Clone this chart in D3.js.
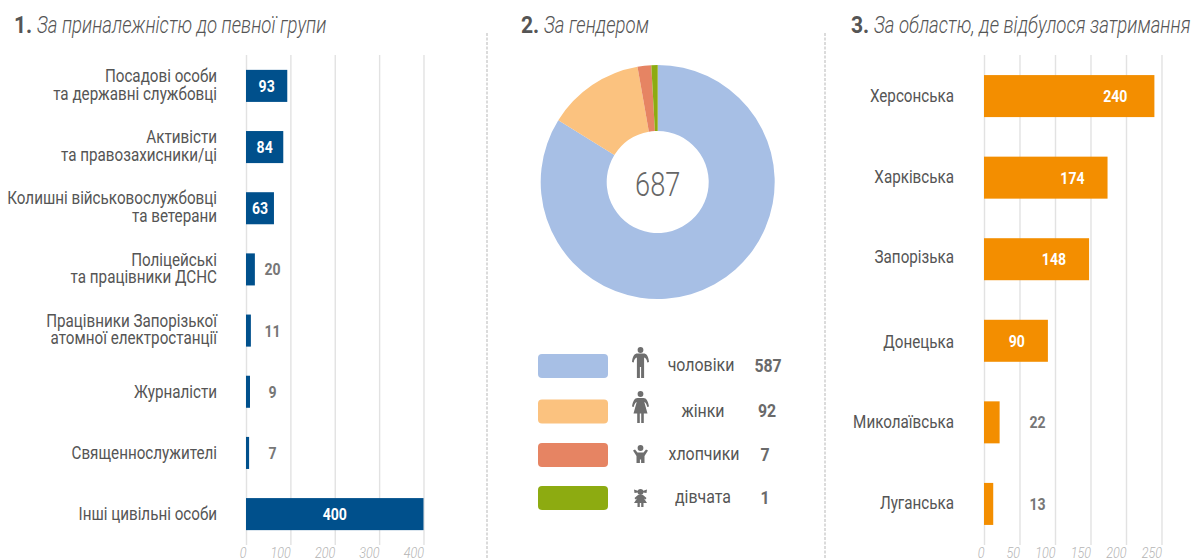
<!DOCTYPE html>
<html>
<head>
<meta charset="utf-8">
<script src="https://cdnjs.cloudflare.com/ajax/libs/d3/7.8.5/d3.min.js"></script>
<style>
  html, body { margin: 0; padding: 0; background: #fff; overflow: hidden; }
  text { font-family: Roboto, sans-serif; }
</style>
</head>
<body>
<div id="chart"></div>
<script>
// data
var groupLabels = [
  ["Посадові особи", "та державні службовці"],
  ["Активісти", "та правозахисники/ці"],
  ["Колишні військовослужбовці", "та ветерани"],
  ["Поліцейські", "та працівники ДСНС"],
  ["Працівники Запорізької", "атомної електростанції"],
  ["Журналісти"],
  ["Священнослужителі"],
  ["Інші цивільні особи"]
];
var groupValues = [93, 84, 63, 20, 11, 9, 7, 400];
var groupTicks = [0, 100, 200, 300, 400];

var genderNames = ["чоловіки", "жінки", "хлопчики", "дівчата"];
var genderValues = [587, 92, 7, 1];
// на картинці малі сектори збільшені, сума та сама
var genderSlices = [576, 92, 13, 6];
var genderColors = ["#a7bfe5", "#fbc27f", "#e68463", "#8dab11"];
var genderTotal = 687;

var regionLabels = ["Херсонська", "Харківська", "Запорізька", "Донецька", "Миколаївська", "Луганська"];
var regionValues = [240, 174, 148, 90, 22, 13];
var regionTicks = [0, 50, 100, 150, 200, 250];

var titleNums = ["1.", "2.", "3."];
var titleTexts = ["За приналежністю до певної групи", "За гендером", "За областю, де відбулося затримання"];

var W = 1192, H = 559;
var cond = 0.845; // немає Roboto Condensed, стискаємо звичайний

var svg = d3.select("#chart").append("svg")
  .attr("width", W)
  .attr("height", H)
  .style("display", "block");

// condensed text at x,y
function put(g, x, y, str, opt) {
  opt = opt || {};
  var k = opt.k || cond;
  return g.append("text")
    .attr("transform", `translate(${x},${y}) scale(${k},1)`)
    .attr("text-anchor", opt.anchor || "middle")
    .attr("font-size", opt.size || 18)
    .attr("font-weight", opt.weight || 400)
    .attr("font-style", opt.style || "normal")
    .attr("fill", opt.fill || "#555")
    .text(str);
}

// titles
var titleX = [14, 521, 851];
titleTexts.forEach(function(t, i) {
  put(svg, titleX[i], 33, titleNums[i], {anchor: "start", size: 24, weight: 700, k: 0.88});
  put(svg, titleX[i] + 23, 33, t, {anchor: "start", size: 23, weight: 300, style: "italic", fill: "#555", k: 0.81});
});

// separators
[487, 825].forEach(function(x) {
  svg.append("line")
    .attr("x1", x).attr("x2", x)
    .attr("y1", 33).attr("y2", H)
    .attr("stroke", "#c4c4c4")
    .attr("stroke-width", 1.2)
    .attr("stroke-dasharray", "3 1.5");
});

// horizontal bar panel
function barPanel(opt) {
  var x = d3.scaleLinear().domain([0, opt.max]).range(opt.xRange);
  var y = d3.scaleBand().domain(d3.range(opt.values.length))
    .range([55.3, 544.7]).paddingInner(opt.pad).paddingOuter(opt.pad / 2);

  var g = svg.append("g");
  var axis = g.append("g")
    .attr("transform", "translate(0,545)")
    .call(d3.axisBottom(x).tickValues(opt.ticks).tickSize(-490).tickPadding(3));
  axis.select(".domain").remove();
  axis.selectAll(".tick line").attr("stroke", "#e2e2e2").attr("stroke-width", 1.4);
  axis.selectAll(".tick text")
    .attr("text-anchor", "end")
    .attr("font-family", "Roboto, sans-serif")
    .attr("font-size", 14)
    .attr("font-weight", 300)
    .attr("font-style", "italic")
    .attr("fill", "#b4b4b4")
    .attr("transform", "scale(0.9,1)");

  g.selectAll("rect.bar")
    .data(opt.values)
    .enter()
    .append("rect")
    .attr("class", "bar")
    .attr("x", x(0))
    .attr("y", (d, i) => y(i))
    .attr("width", d => x(d) - x(0))
    .attr("height", y.bandwidth())
    .attr("fill", opt.color);

  // category labels
  opt.labels.forEach(function(lab, i) {
    var lines = Array.isArray(lab) ? lab : [lab];
    var cy = y(i) + y.bandwidth() / 2 + 6 + (opt.labelDy ? opt.labelDy[i] : 0);
    lines.forEach(function(s, j) {
      var yy = cy + (j - (lines.length - 1) / 2) * 17.5 - (lines.length > 1 ? 1 : 0);
      put(g, opt.labelX, yy, s, {anchor: "end", size: 18, fill: "#555"});
    });
  });

  // value labels
  opt.values.forEach(function(v, i) {
    var p = opt.valuePos(v, x);
    put(g, p.x, y(i) + y.bandwidth() / 2 + 6, v, {
      anchor: p.anchor || "middle",
      size: 16,
      weight: 700,
      fill: p.inside ? "#fff" : "#777",
      k: 0.88
    });
  });
}

barPanel({
  labels: groupLabels, values: groupValues, ticks: groupTicks,
  max: 400, xRange: [246, 423.5], pad: 0.476, color: "#00508c", labelX: 217,
  valuePos: function(v, x) {
    if (v > 50) return {x: (x(0) + x(v)) / 2, inside: true};
    return {x: 272.5, inside: false};
  }
});

barPanel({
  labels: regionLabels, values: regionValues, ticks: regionTicks,
  max: 250, xRange: [984, 1161.5], pad: 0.485, color: "#f38e00", labelX: 954,
  labelDy: [0, -1, -2, 1, 0, -1],
  valuePos: function(v, x) {
    if (v > 50) return {x: x(v) - 23 - (v > 200 ? 4 : 0), anchor: "end", inside: true};
    return {x: 1037.5, inside: false};
  }
});

// donut
var pie = d3.pie().sort(null)(genderSlices);
var arc = d3.arc().innerRadius(51).outerRadius(117);
var donut = svg.append("g").attr("transform", "translate(657.7,182)");
donut.selectAll("path")
  .data(pie)
  .enter()
  .append("path")
  .attr("d", arc)
  .attr("fill", (d, i) => genderColors[i]);
put(donut, 0, 14, genderTotal, {size: 34, weight: 300, fill: "#666", k: 0.8});

// legend
var iconPaths = [
  "M-3,6.5 H3 C6,6.5 8,9 8.5,15 L6.8,15.5 C6.5,12.5 5,11 3.6,10.5 V31 H0.6 V20 H-0.6 V31 H-3.6 V10.5 C-5,11 -6.5,12.5 -6.8,15.5 L-8.5,15 C-8,9 -6,6.5 -3,6.5Z",
  "M-3,7 H3 C6,7 7.5,10 8.5,15.5 L6.8,16 C6,13 5,11.5 3.8,11 L7,22.5 H3.3 V32 H0.7 V22.5 H-0.7 V32 H-3.3 V22.5 H-7 L-3.8,11 C-5,11.5 -6,13 -6.8,16 L-8.5,15.5 C-7.5,10 -6,7 -3,7Z",
  "M-7.5,5.5 L-5.5,4.5 L-3,7.5 H3 L5.5,4.5 L7.5,5.5 L4,11 V18 H0.6 V14.5 H-0.6 V18 H-4 V11Z",
  "M-2,2 L-6.5,0.5 L-6,4 L-2.5,3.5Z M2,2 L6.5,0.5 L6,4 L2.5,3.5Z M-2.5,6 H2.5 L6,9 L5,10.5 L3.5,9.5 L6.5,14 H3 V18 H0.7 V14 H-0.7 V18 H-3 V14 H-6.5 L-3.5,9.5 L-5,10.5 L-6,9Z"
];
var iconTop = [347, 391, 445, 489];
var legY = d3.scaleOrdinal().domain(genderNames).range([366, 411.5, 455, 498]);
var legValX = [768, 767, 765, 765];
var legNameX = [701, 703, 704, 703];
var legend = svg.append("g");

legend.selectAll("rect")
  .data(genderNames)
  .enter()
  .append("rect")
  .attr("x", 538)
  .attr("y", d => legY(d) - 12)
  .attr("width", 70)
  .attr("height", 24)
  .attr("rx", 4)
  .attr("fill", (d, i) => genderColors[i]);

genderNames.forEach(function(name, i) {
  var ic = legend.append("g")
    .attr("transform", `translate(640.5,${iconTop[i]})`)
    .attr("fill", "#6e6e6e");
  ic.append("circle").attr("cx", 0).attr("cy", 3).attr("r", 2.9);
  ic.append("path").attr("d", iconPaths[i]);
  put(legend, legNameX[i], legY(name) + 5, name, {size: 18, fill: "#555", k: 0.885});
  put(legend, legValX[i], legY(name) + 5.5, genderValues[i], {size: 18, weight: 700, fill: "#6a6a6a", k: 0.88});
});
</script>
</body>
</html>
